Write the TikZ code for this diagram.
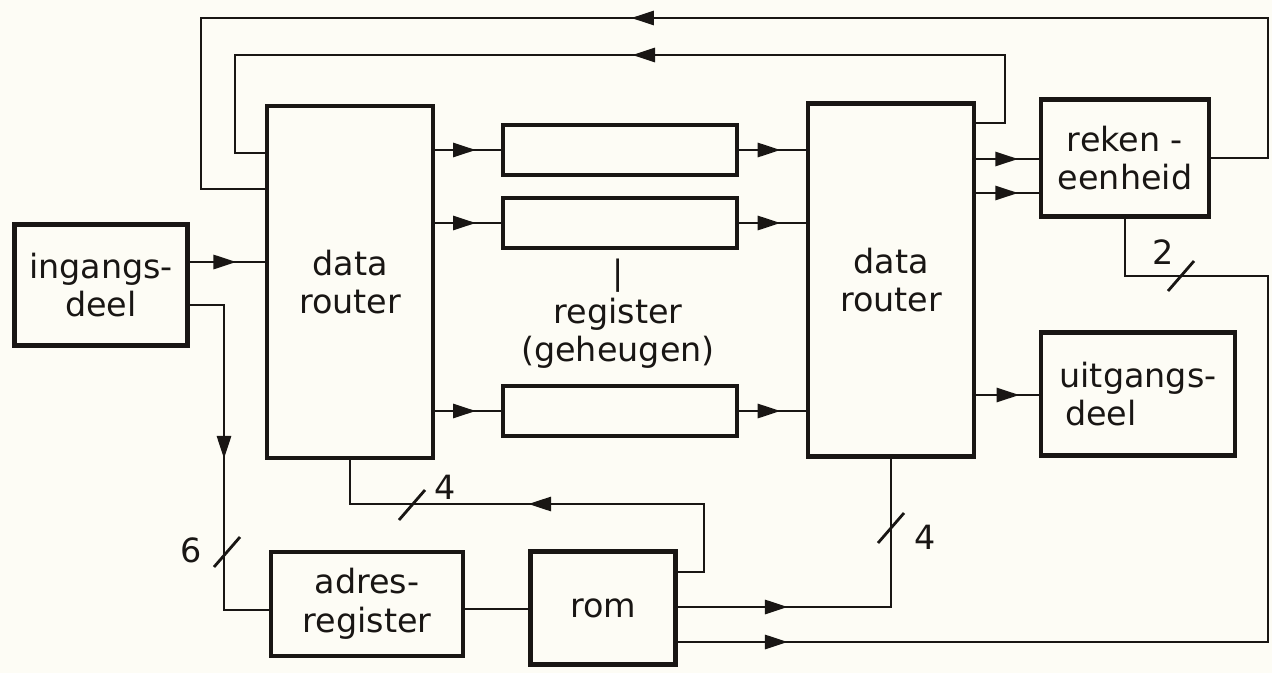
\documentclass[tikz,border=0pt]{standalone}
\usepackage{fontspec}
\setmainfont{DejaVu Sans}
\usepackage{xcolor}
\usetikzlibrary{arrows.meta, decorations.markings}
\definecolor{paper}{RGB}{253,252,245}
\definecolor{ink}{RGB}{25,22,20}
\tikzset{every node/.append style={font=\fontsize{19}{22}\selectfont, text=ink}}
\tikzset{
  blok/.style={draw=ink, line width=2.6pt, inner sep=0pt, align=center},
  lijn/.style={draw=ink, line width=1.6pt},
  pijl/.style={postaction={decorate, decoration={markings, mark=at position #1 with {\arrow{Triangle[length=13pt,width=8pt]}}}}},
  pijl/.default=0.62,
  bus/.style={draw=ink, line width=1.6pt}
}

\begin{document}
\begin{tikzpicture}[x=0.02cm, y=-0.02cm]
    \fill[paper] (0,0) rectangle (1272,673);
    \useasboundingbox (0,0) rectangle (1272,673);
    \node[blok, minimum width=3.46cm, minimum height=2.42cm] (ing) at (101,285) {ingangs-\\deel};
    \node[blok, minimum width=3.32cm, minimum height=7.04cm] (lr) at (350,282) {data\\router};
    \foreach \n/\y in {r1/150, r2/223, r3/411}
        \node[blok, minimum width=4.68cm, minimum height=1cm] (\n) at (620,\y) {};
    \node[align=center] (reglbl) at (618,314) {|\\register\\(geheugen)};
    \node[blok, minimum width=3.32cm, minimum height=7.06cm] (rr) at (891,280) {data\\router};
    \node[blok, minimum width=3.36cm, minimum height=2.34cm] (rek) at (1125,158) {reken -\\eenheid};
    \node[blok, minimum width=3.88cm, minimum height=2.46cm, align=left] (uit) at (1138,394) {uitgangs-\\\,deel};
    \node[blok, minimum width=3.84cm, minimum height=2.08cm] (adr) at (367,604) {adres-\\register};
    \node[blok, minimum width=2.9cm, minimum height=2.26cm] (rom) at (603,608) {rom};

    \draw[lijn, pijl] (ing.east |- 0,262) -- (lr.west |- 0,262);
    \foreach \n in {r1, r2, r3} {
        \draw[lijn, pijl] (lr.east |- \n.west) -- (\n.west);
        \draw[lijn, pijl] (\n.east) -- (rr.west |- \n.east);
    }
    \draw[lijn, pijl=0.67] (rr.east |- 0,159) -- (rek.west |- 0,159);
    \draw[lijn, pijl=0.67] (rr.east |- 0,193) -- (rek.west |- 0,193);
    \draw[lijn, pijl=0.69] (rr.east |- 0,395) -- (uit.west |- 0,395);

    \draw[lijn, pijl=-13.3cm] (rek.east) -- (1268,158) -- (1268,18) -- (201,18) -- (201,189) -- (lr.west |- 0,189);
    \draw[lijn, pijl=-10.5cm] (rr.east |- 0,123) -- (1005,123) -- (1005,55) -- (235,55) -- (235,153) -- (lr.west |- 0,153);

    \draw[lijn, pijl=3.76cm] (ing.east |- 0,305) -- (224,305) -- (224,610) -- (adr.west |- 0,610);
    \draw[lijn] (adr.east |- 0,609) -- (rom.west |- 0,609);
    \draw[lijn, pijl=5.4cm] (rom.east |- 0,572) -- (704,572) -- (704,504) -| (lr.south);
    \draw[lijn, pijl=2.2cm] (rom.east |- 0,607) -| (rr.south);
    \draw[lijn, pijl=2.2cm] (rom.east |- 0,642) -| (1268,276) -| (rek.south);

    \foreach \x/\y in {412/505, 227/552, 891/528, 1181/276}
        \draw[bus] (\x,\y) ++(-13,15) -- ++(26,-30);
    \node (n4a) at (445,487) {4};
    \node (n6) at (191,550) {6};
    \node (n4b) at (925,537) {4};
    \node (n2) at (1163,252) {2};
\end{tikzpicture}
\end{document}
